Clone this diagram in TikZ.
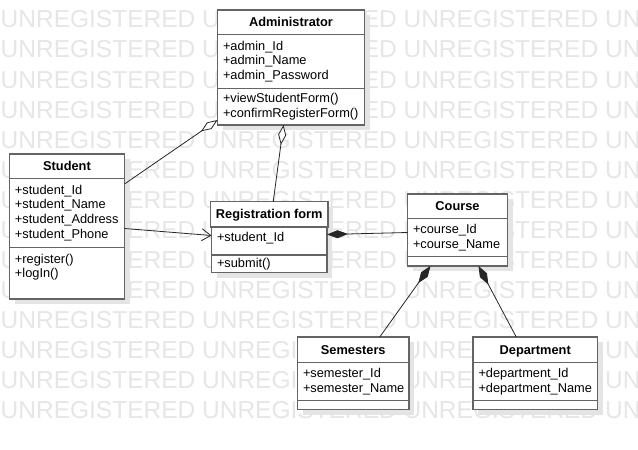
\documentclass[tikz,border=0pt]{standalone}
\usepackage{fontspec}
\setmainfont{Liberation Sans}
\usepackage{xcolor}
\usepackage{tikz}
\usetikzlibrary{arrows.meta, positioning, shadows}
\definecolor{wmgray}{RGB}{230,230,230}
\definecolor{boxline}{RGB}{100,100,100}
\definecolor{shadowgray}{RGB}{228,228,228}
\tikzset{every node/.style={align=center}}
\tikzset{link/.style={line width=0.8pt, black!85}}

\begin{document}
\begin{tikzpicture}[x=1pt, y=-1pt,
    wmark/.style={anchor=west, inner sep=0pt, text=wmgray, font=\fontsize{24.5}{26}\selectfont},
    box/.style={draw=boxline, line width=1.3pt, fill=white, outer sep=0pt, inner xsep=5.5pt, inner ysep=2pt,
                drop shadow={shadow xshift=5pt, shadow yshift=-5pt, fill=shadowgray, opacity=1}},
    head/.style={box, text height=9.3pt, text depth=0pt, font=\bfseries\fontsize{12.8}{14.8}\selectfont},
    part/.style={box, align=left, font=\fontsize{12.8}{14.8}\selectfont},
    agg/.style={link, -{Diamond[fill=white, length=20pt, width=8pt]}},
    comp/.style={link, -{Diamond[length=21pt, width=8pt]}},
    assoc/.style={link, -{Straight Barb[length=9pt, width=12pt]}}
]
  \useasboundingbox (0,0) rectangle (638,450);
  \fill[white] (0,0) rectangle (638,450);

  % watermark rows
  \begin{scope}
    \clip (0,0) rectangle (638,450);
    \foreach \r in {0,...,13}
      \node[wmark] (wm\r) at (0.5, {19.5+30.05*\r}) {UNREGISTERED UNREGISTERED UNREGISTERED UNREGISTERED};
  \end{scope}

  % classes
  \node (adm)  at (291,22.25) [head, minimum width=147pt, minimum height=24.5pt] {Administrator};
  \node (admA) [part, below=0pt of adm,  text width=136pt, minimum height=54pt] {+admin\_Id\\+admin\_Name\\+admin\_Password};
  \node (admM) [part, below=0pt of admA, text width=136pt, minimum height=36.5pt] {+viewStudentForm()\\+confirmRegisterForm()};

  \node (stu)  at (67,166.25) [head, minimum width=115pt, minimum height=24.5pt] {Student};
  \node (stuA) [part, below=0pt of stu,  text width=104pt, minimum height=69pt] {+student\_Id\\+student\_Name\\+student\_Address\\+student\_Phone};
  \node (stuM) [part, below=0pt of stuA, text width=104pt, minimum height=51.5pt] {+register()\\+logIn()\\\mbox{}};

  \node (reg)  at (269.25,214.25) [head, minimum width=115.5pt, minimum height=25.5pt] {Registration form};
  \node (regA) [part, below=0pt of reg,  text width=104.5pt, minimum height=28pt, text depth=9pt] {+student\_Id};
  \node (regM) [part, below=0pt of regA, text width=104.5pt, minimum height=17.5pt] {+submit()};

  \node (crs)  at (457.5,206.25) [head, minimum width=100pt, minimum height=24.5pt] {Course};
  \node (crsA) [part, below=0pt of crs,  text width=89pt, minimum height=38pt] {+course\_Id\\+course\_Name};
  \node (crsM) [part, below=0pt of crsA, text width=89pt, minimum height=9.5pt] {};

  \node (sem)  at (353.25,349.75) [head, minimum width=111.5pt, minimum height=25.5pt] {Semesters};
  \node (semA) [part, below=0pt of sem,  text width=100.5pt, minimum height=38pt] {+semester\_Id\\+semester\_Name};
  \node (semM) [part, below=0pt of semA, text width=100.5pt, minimum height=9pt] {};

  \node (dep)  at (535.25,349.75) [head, minimum width=124.5pt, minimum height=25.5pt] {Department};
  \node (depA) [part, below=0pt of dep,  text width=113.5pt, minimum height=38pt] {+department\_Id\\+department\_Name};
  \node (depM) [part, below=0pt of depA, text width=113.5pt, minimum height=9pt] {};

  % relations
  \draw[agg]   ([yshift=-5.5pt]stuA.north east) -- ([yshift=5pt]admM.south west);
  \draw[agg]   ([xshift=4pt]reg.north) -- ([xshift=-7.5pt]admM.south);
  \draw[assoc] ([yshift=-15.5pt]stuA.east) -- ([yshift=5.5pt]regA.west);
  \draw[comp]  ([yshift=5pt]crsA.west) -- ([yshift=6.5pt]regA.east);
  \draw[comp]  ([xshift=26.5pt]sem.north) -- ([xshift=-27pt]crsM.south);
  \draw[comp]  ([xshift=-19pt]dep.north) -- ([xshift=21pt]crsM.south);
\end{tikzpicture}
\end{document}
